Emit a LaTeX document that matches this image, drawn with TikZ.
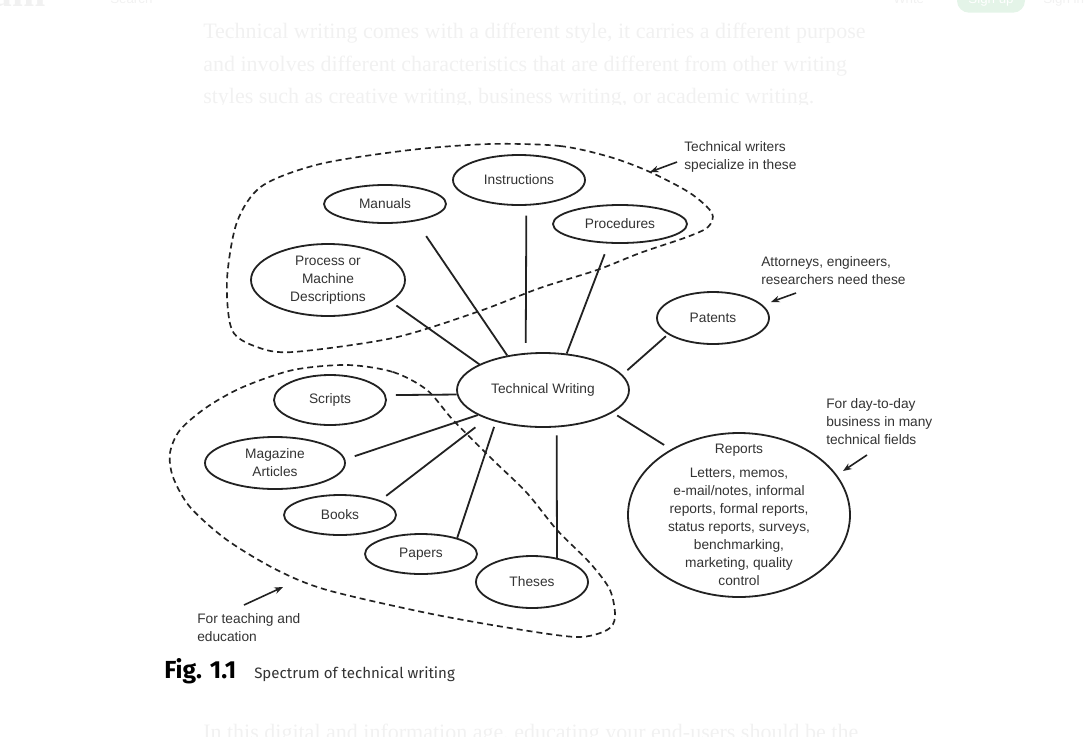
\documentclass[tikz,border=0pt]{standalone}
\usepackage{fontspec}
\setmainfont{Liberation Serif}
\setsansfont{Liberation Sans}
\newfontfamily\capfont{Fira Sans}
\newfontfamily\pagefont{Liberation Serif}
\usetikzlibrary{shapes.geometric,arrows.meta}

\definecolor{ink}{HTML}{222222}
\definecolor{txt}{HTML}{333333}
\definecolor{faded}{HTML}{F1F1F1}
\definecolor{pill}{HTML}{E4F4E8}
\newcommand{\labelfont}{\sffamily\fontsize{10.3}{13.5}\selectfont}

\tikzset{
  bubble/.style={ellipse, draw=ink, line width=1.35pt, inner sep=0pt, text=txt, font=\labelfont, align=center},
  inside/.style={align=center, inner sep=0pt, text=txt, font=\labelfont},
  spoke/.style={draw=ink, line width=1.35pt},
  group/.style={draw=ink, line width=1.25pt, dash pattern=on 4.5pt off 3pt},
  note/.style={align=left, anchor=west, inner sep=0pt, text=txt, font=\labelfont},
  pointer/.style={draw=ink, line width=1.2pt, -{Stealth[length=6.5pt,width=5pt]}},
  page/.style={anchor=base west, inner sep=0pt, text=faded, font=\pagefont\fontsize{16.5}{18}\selectfont},
}

\begin{document}
\begin{tikzpicture}[x=0.75pt, y=-0.75pt]
\useasboundingbox (0,0) rectangle (1088,736);

% page behind the figure
\node[page, anchor=base east, font=\pagefont\bfseries\fontsize{30}{30}\selectfont] (logo) at (46,6) {Medium};
\node[page, font=\sffamily\fontsize{10}{10}\selectfont] (search) at (110,3) {Search};
\node[page, font=\sffamily\fontsize{10}{10}\selectfont] (write) at (893,3) {Write};
\node[fill=pill, rounded corners=9pt, minimum width=51pt, minimum height=19pt, inner sep=0pt, text=white, font=\sffamily\fontsize{10}{10}\selectfont] (signup) at (991,0) {Sign up};
\node[page, font=\sffamily\fontsize{10}{10}\selectfont] (signin) at (1043,3) {Sign in};
\node[page] (p1) at (203,38) {Technical writing comes with a different style, it carries a different purpose};
\node[page] (p2) at (203,71) {and involves different characteristics that are different from other writing};
\node[page] (p3) at (203,103) {styles such as creative writing, business writing, or academic writing.};
\node[page] (p4) at (203,739) {In this digital and information age, educating your end-users should be the};
\fill[white] (150,105) rectangle (960,700);

% topics
\node[bubble, minimum width=99pt, minimum height=37.5pt] (ins) at (519,180) {Instructions};
\node[bubble, minimum width=91.5pt, minimum height=28.5pt] (man) at (385,204) {Manuals};
\node[bubble, minimum width=100.5pt, minimum height=28.5pt] (proc) at (620,224) {Procedures};
\node[bubble, minimum width=115.5pt, minimum height=54pt] (pmd) at (328,280) {};
\node[inside] (pmdtext) at (pmd) {Process or\\Machine\\Descriptions};
\node[bubble, minimum width=84pt, minimum height=39pt] (pat) at (713,318) {Patents};
\node[bubble, minimum width=129pt, minimum height=55.5pt] (tw) at (543,390) {Technical Writing};
\node[bubble, minimum width=84pt, minimum height=37.5pt] (scr) at (330,400) {Scripts};
\node[bubble, minimum width=105pt, minimum height=39pt] (mag) at (275,463) {Magazine\\Articles};
\node[bubble, minimum width=84pt, minimum height=30pt] (bks) at (340,515) {Books};
\node[bubble, minimum width=84pt, minimum height=30pt] (pap) at (421,554) {Papers};
\node[bubble, minimum width=84pt, minimum height=39pt] (ths) at (532,582) {Theses};
\node[bubble, minimum width=166.5pt, minimum height=123pt] (rep) at (739,515) {};
\node[inside] (reptext) at (rep) {Reports\\[4.5pt]Letters, memos,\\e-mail/notes, informal\\reports, formal reports,\\status reports, surveys,\\benchmarking,\\marketing, quality\\control};

% spokes
\draw[spoke, shorten <=13.5pt] (man.-29) -- (tw.136);
\draw[spoke, shorten <=7.5pt, shorten >=7.5pt] (ins.-74) -- (tw.115);
\draw[spoke, shorten <=8.5pt] (proc.-120) -- (tw.57);
\draw[spoke, shorten <=5pt] (pmd.-19) -- (tw.158);
\draw[spoke, shorten <=2pt, shorten >=5pt] (pat.-160) -- (tw.11);
\draw[spoke, shorten <=4pt, shorten >=6pt] (tw.-18) -- (rep.136);
\draw[spoke, shorten <=7.5pt] (scr.5) -- (tw.183);
\draw[spoke, shorten <=7.5pt] (mag.3) -- (tw.201);
\draw[spoke, shorten <=5.5pt, shorten >=10.5pt] (bks.20) -- (tw.207);
\draw[spoke, shorten >=4pt] (pap.24) -- (tw.214);
\draw[spoke, shorten <=6pt] (tw.-70) -- (ths.44);

% groups
\draw[group] plot[smooth cycle] coordinates {(490,144) (560,146) (610,157) (650,172) (690,193) (712,213) (708,227) (687,237) (640,253) (597,270) (540,288) (477,312) (393,338) (293,352) (257,347) (232,330) (227,280) (237,222) (262,186) (320,164) (410,150)};
\draw[group] plot[smooth cycle] coordinates {(347,365) (393,372) (427,390) (453,420) (493,460) (527,493) (557,530) (590,563) (610,590) (615,617) (607,630) (577,637) (510,628) (427,613) (327,590) (277,570) (227,540) (190,507) (173,477) (170,453) (180,430) (207,407) (243,387) (293,370)};

% notes
\node[note] (twnote) at (684,157) {Technical writers\\specialize in these};
\node[note] (attnote) at (761,271) {Attorneys, engineers,\\researchers need these};
\node[note] (daynote) at (826,422) {For day-to-day\\business in many\\technical fields};
\node[note] (teachnote) at (197,628) {For teaching and\\education};
\coordinate (twtail) at (677,162);
\coordinate (twtip) at (650,172);
\coordinate (atttail) at (796,293);
\coordinate (atttip) at (771,302);
\coordinate (daytail) at (867,455);
\coordinate (daytip) at (843,471);
\coordinate (teachtail) at (244,605);
\coordinate (teachtip) at (283,587);
\draw[pointer] (twtail) -- (twtip);
\draw[pointer] (atttail) -- (atttip);
\draw[pointer] (daytail) -- (daytip);
\draw[pointer] (teachtail) -- (teachtip);

% caption
\node[anchor=base west, inner sep=0pt, font=\capfont\bfseries\fontsize{18.5}{18.5}\selectfont, text=black] (fig) at (164,678) {Fig. 1.1};
\node[anchor=base west, inner sep=0pt, font=\capfont\fontsize{11.3}{11.3}\selectfont, text=txt] (cap) at (254,678) {Spectrum of technical writing};
\end{tikzpicture}
\end{document}
